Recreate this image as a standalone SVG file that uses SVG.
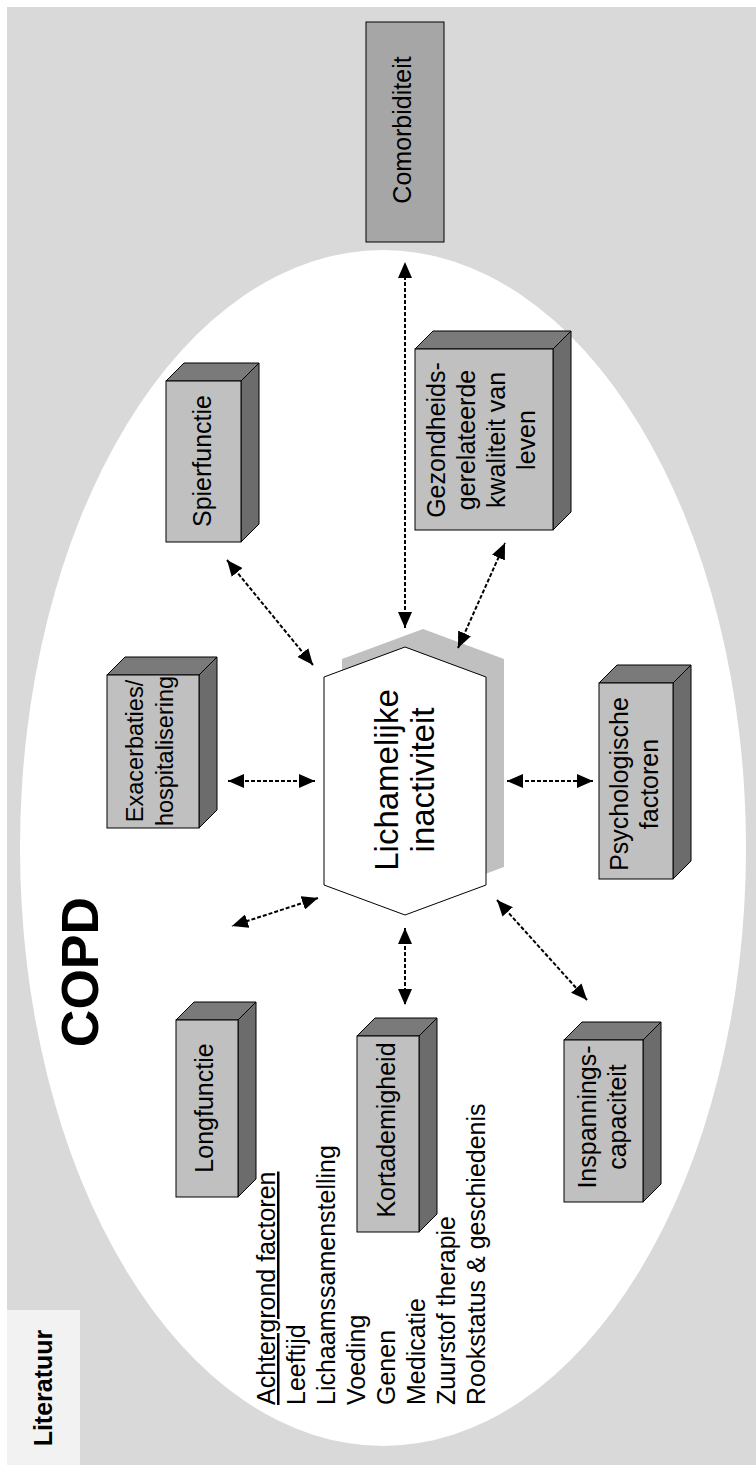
<svg xmlns="http://www.w3.org/2000/svg" width="756" height="1465" viewBox="0 0 756 1465">
<defs>
<style>
.t{font-family:"Liberation Sans",Arial,sans-serif;font-size:25px;fill:#000}
.front{fill:#c0c0c0;stroke:#000;stroke-width:1}
.top{fill:#7a7a7a;stroke:#000;stroke-width:1}
.side{fill:#6c6c6c;stroke:#000;stroke-width:1}
.con{stroke:#000;stroke-width:2;stroke-dasharray:4 2;fill:none;marker-start:url(#ah);marker-end:url(#ah)}
</style>
<marker id="ah" markerUnits="userSpaceOnUse" markerWidth="16" markerHeight="14" refX="16" refY="7" orient="auto-start-reverse">
<path d="M0,0 L16,7 L0,14 z" fill="#000"/>
</marker>
</defs>
<rect x="7" y="7" width="749" height="1458" fill="#d9d9d9"/>
<rect x="7" y="1310" width="73" height="155" fill="#f2f2f2"/>
<ellipse cx="383" cy="848" rx="363" ry="598" fill="#fff"/>
<text class="t" transform="translate(52,1388) rotate(-90)" text-anchor="middle" font-weight="bold">Literatuur</text>
<text class="t" transform="translate(98,972) rotate(-90)" text-anchor="middle" font-weight="bold" style="font-size:52px">COPD</text>

<g id="comorbiditeit">
<rect x="366" y="22" width="78" height="220" fill="#a6a6a6" stroke="#000"/>
<text class="t" transform="translate(411,130) rotate(-90)" text-anchor="middle">Comorbiditeit</text>
</g>

<g id="exacerbaties">
<path class="top" d="M107,675 L125,657 L217,657 L199,675 Z"/>
<path class="side" d="M199,675 L217,657 L217,810 L199,828 Z"/>
<rect class="front" x="107" y="675" width="92" height="153"/>
<text class="t" transform="translate(143,751) rotate(-90)" text-anchor="middle" style="font-size:23.5px"><tspan x="0" y="0">Exacerbaties/</tspan><tspan x="0" y="30">hospitalisering</tspan></text>
</g>

<g id="spierfunctie">
<path class="top" d="M166,381 L184,363 L259,363 L241,381 Z"/>
<path class="side" d="M241,381 L259,363 L259,524 L241,542 Z"/>
<rect class="front" x="166" y="381" width="75" height="161"/>
<text class="t" transform="translate(211,461) rotate(-90)" text-anchor="middle">Spierfunctie</text>
</g>

<g id="gezondheid">
<path class="top" d="M415,349 L433,331 L571,331 L553,349 Z"/>
<path class="side" d="M553,349 L571,331 L571,512 L553,530 Z"/>
<rect class="front" x="415" y="349" width="138" height="181"/>
<text class="t" transform="translate(445,440) rotate(-90)" text-anchor="middle"><tspan x="0" y="0">Gezondheids-</tspan><tspan x="0" y="30">gerelateerde</tspan><tspan x="0" y="60">kwaliteit van</tspan><tspan x="0" y="90">leven</tspan></text>
</g>

<g id="psychologisch">
<path class="top" d="M599,683 L617,665 L691,665 L673,683 Z"/>
<path class="side" d="M673,683 L691,665 L691,861 L673,879 Z"/>
<rect class="front" x="599" y="683" width="74" height="196"/>
<text class="t" transform="translate(628,784) rotate(-90)" text-anchor="middle"><tspan x="0" y="0">Psychologische</tspan><tspan x="0" y="30">factoren</tspan></text>
</g>

<g id="longfunctie">
<path class="top" d="M176,1020 L194,1002 L256,1002 L238,1020 Z"/>
<path class="side" d="M238,1020 L256,1002 L256,1179 L238,1197 Z"/>
<rect class="front" x="176" y="1020" width="62" height="177"/>
<text class="t" transform="translate(213,1108) rotate(-90)" text-anchor="middle">Longfunctie</text>
</g>

<g id="kortademigheid">
<path class="top" d="M357,1036 L375,1018 L437,1018 L419,1036 Z"/>
<path class="side" d="M419,1036 L437,1018 L437,1214 L419,1232 Z"/>
<rect class="front" x="357" y="1036" width="62" height="196"/>
<text class="t" transform="translate(395,1130) rotate(-90)" text-anchor="middle">Kortademigheid</text>
</g>

<g id="inspanning">
<path class="top" d="M564,1040 L582,1022 L661,1022 L643,1040 Z"/>
<path class="side" d="M643,1040 L661,1022 L661,1184 L643,1202 Z"/>
<rect class="front" x="564" y="1040" width="79" height="162"/>
<text class="t" transform="translate(596,1117) rotate(-90)" text-anchor="middle"><tspan x="0" y="0">Inspannings-</tspan><tspan x="0" y="30">capaciteit</tspan></text>
</g>

<g id="lichamelijke-inactiviteit">
<polygon points="423,629 504,659 504,867 423,897 342,867 342,659" fill="#c0c0c0"/>
<polygon points="405,647 486,677 486,885 405,915 324,885 324,677" fill="#fff" stroke="#000" stroke-width="1"/>
<text class="t" transform="translate(398,780) rotate(-90)" text-anchor="middle" style="font-size:33px"><tspan x="0" y="0">Lichamelijke</tspan><tspan x="0" y="36">inactiviteit</tspan></text>
</g>

<g id="achtergrond">
<text class="t" transform="translate(275,1405) rotate(-90)" text-decoration="underline">Achtergrond factoren</text>
<text class="t" transform="translate(305,1405) rotate(-90)">Leeftijd</text>
<text class="t" transform="translate(335,1405) rotate(-90)">Lichaamssamenstelling</text>
<text class="t" transform="translate(365,1405) rotate(-90)">Voeding</text>
<text class="t" transform="translate(395,1405) rotate(-90)">Genen</text>
<text class="t" transform="translate(425,1405) rotate(-90)">Medicatie</text>
<text class="t" transform="translate(455,1405) rotate(-90)">Zuurstof therapie</text>
<text class="t" transform="translate(485,1405) rotate(-90)">Rookstatus &amp; geschiedenis</text>
</g>

<g id="connectors">
<line class="con" x1="405" y1="628" x2="405" y2="262"/>
<line class="con" x1="458" y1="648" x2="505" y2="543"/>
<line class="con" x1="313" y1="665" x2="227" y2="560"/>
<line class="con" x1="315" y1="781" x2="228" y2="781"/>
<line class="con" x1="507" y1="781" x2="593" y2="781"/>
<line class="con" x1="318" y1="898" x2="232" y2="926"/>
<line class="con" x1="405" y1="928" x2="405" y2="1005"/>
<line class="con" x1="497" y1="900" x2="587" y2="1000"/>
</g>
</svg>
